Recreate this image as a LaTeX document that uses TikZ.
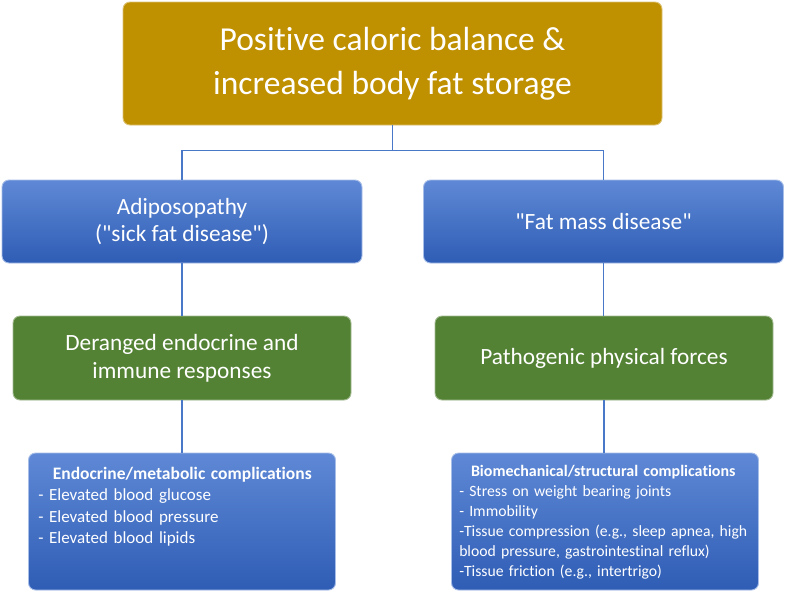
\documentclass[tikz,border=0pt]{standalone}
\usepackage{fontspec}
\setmainfont{Carlito}[Ligatures={NoCommon,TeXOff}]
\usetikzlibrary{positioning,calc}
\definecolor{gold}{HTML}{BF9000}
\definecolor{leaf}{HTML}{548235}
\definecolor{blueT}{HTML}{5F89D6}
\definecolor{blueB}{HTML}{2F5DB5}
\definecolor{link}{HTML}{4A78C8}

\begin{document}
\begin{tikzpicture}[x=1pt, y=-1pt,
    box/.style={rounded corners=7pt, text=white, align=center, line width=0.9pt, inner sep=0pt},
    causebox/.style={box, fill=gold, draw=gold!55!white, minimum width=539pt, minimum height=123pt,
        font=\fontsize{33.5}{44}\selectfont},
    kindbox/.style={box, top color=blueT, bottom color=blueB, draw=blueT!55!white, minimum width=360pt,
        minimum height=83pt, font=\fontsize{23.3}{27}\selectfont},
    mechbox/.style={box, fill=leaf, draw=leaf!55!white, minimum width=338pt, minimum height=84pt,
        font=\fontsize{23.3}{28}\selectfont},
    compbox/.style={box, top color=blueT, bottom color=blueB, draw=blueT!55!white, minimum width=307pt,
        minimum height=137pt},
    complist/.style={text=white, inner sep=0pt, anchor=north west, text width=288pt, align=left},
    link/.style={draw=link, line width=1.2pt}]
  \useasboundingbox (0,0) rectangle (787,592);
  % boxes
  \node[causebox] (cause) at (392.5,63.5) {Positive caloric balance \&\\increased body fat storage};
  \node[kindbox] (sick) at (182,221.5) {Adiposopathy\\("sick fat disease")};
  \node[kindbox] (mass) at (603.5,221.5) {"Fat mass disease"};
  \node[mechbox] (endo) at (182,358) {Deranged endocrine and\\immune responses};
  \node[mechbox] (force) at (604,358) {Pathogenic physical forces};
  \node[compbox] (metab) at (182,521.5) {};
  \node[compbox] (struct) at (605,521.5) {};
  \node[complist, font=\fontsize{17}{21.5}\selectfont] (metablist) at ($(metab.north west)+(10,14)$)
    {\makebox[\linewidth]{\fontsize{17.5}{21.5}\selectfont\bfseries Endocrine/metabolic complications}\\
     - Elevated blood glucose\\
     - Elevated blood pressure\\
     - Elevated blood lipids};
  \node[complist, font=\fontsize{15.7}{20}\selectfont] (structlist) at ($(struct.north west)+(8,13)$)
    {\makebox[\linewidth]{\fontsize{16}{20}\selectfont\bfseries Biomechanical/structural complications}\\
     - Stress on weight bearing joints\\
     - Immobility\\
     -Tissue compression (e.g., sleep apnea, high\\
     blood pressure, gastrointestinal reflux)\\
     -Tissue friction (e.g., intertrigo)};
  % connectors
  \coordinate (split) at ($(cause.south)+(0,25)$);
  \draw[link] (cause.south) -- (split);
  \draw[link] (split) -| (sick.north);
  \draw[link] (split) -| (mass.north);
  \draw[link] (sick.south) -- (endo.north);
  \draw[link] (endo.south) -- (metab.north);
  \draw[link] (mass.south) -- (mass.south |- force.north);
  \draw[link] (force.south) -- (force.south |- struct.north);
\end{tikzpicture}
\end{document}
